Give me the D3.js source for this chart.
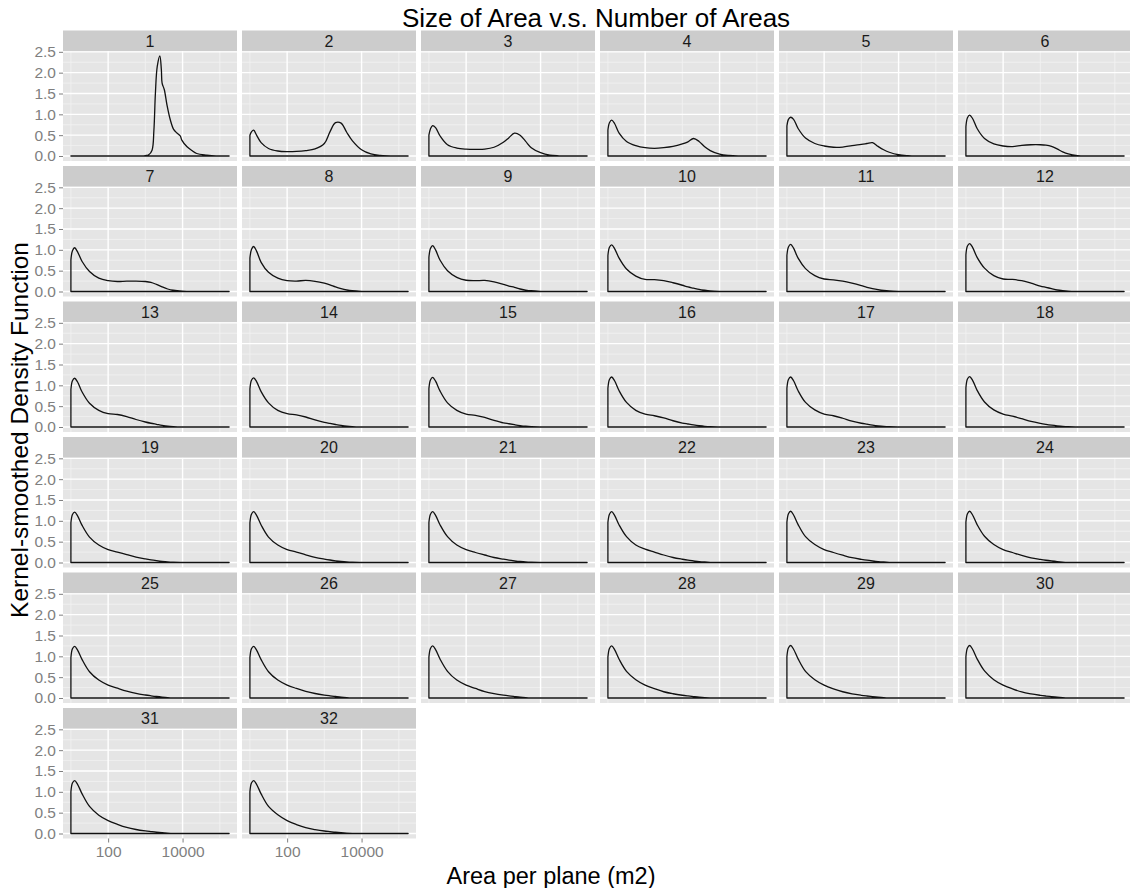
<!DOCTYPE html>
<html>
<head>
<meta charset="utf-8">
<script src="https://cdn.jsdelivr.net/npm/d3@7"></script>
<style>
body{margin:0;background:#fff;}
svg text{font-family:"Liberation Sans",Arial,Helvetica,sans-serif;}
</style>
</head>
<body>
<div id="chart"></div>
<script>
// facet labels
var panelLabels = ["1","2","3","4","5","6","7","8","9","10","11","12","13","14","15","16",
    "17","18","19","20","21","22","23","24","25","26","27","28","29","30","31","32"];

// area (m2) where the curves were read; panel 1 needs a finer grid round its peak
var areaGridFirst = [10, 316, 1000, 1230, 1514, 1698, 1862, 2089, 2455, 2692, 2818, 3236, 3802, 4677, 5754, 7079, 8710, 9550, 13183, 17783, 23988, 44668, 79433, 177828];
var areaGrid = [10, 11, 12.6, 15.1, 20, 31.6, 56.2, 100, 178, 316, 562, 1000, 1413, 1995, 2818, 3981, 5623, 10000, 17783, 31623, 100000, 177828];

var density1 = [0, 0, 0.01, 0.03, 0.14, 0.62, 1.5, 2.15, 2.40, 2.07, 1.75, 1.59, 1.23, 0.87, 0.64, 0.55, 0.48, 0.38, 0.22, 0.13, 0.06, 0.02, 0, 0];
var density2 = [0.50, 0.58, 0.62, 0.50, 0.32, 0.18, 0.12, 0.105, 0.11, 0.13, 0.17, 0.30, 0.58, 0.80, 0.79, 0.57, 0.37, 0.15, 0.05, 0.015, 0, 0];
var density3 = [0.50, 0.65, 0.73, 0.68, 0.48, 0.27, 0.19, 0.165, 0.16, 0.165, 0.21, 0.33, 0.44, 0.55, 0.50, 0.35, 0.20, 0.08, 0.02, 0.005, 0, 0];
var density4 = [0.62, 0.80, 0.86, 0.78, 0.55, 0.35, 0.25, 0.20, 0.185, 0.20, 0.23, 0.29, 0.34, 0.42, 0.35, 0.22, 0.13, 0.045, 0.012, 0, 0, 0];
var density5 = [0.72, 0.88, 0.93, 0.88, 0.66, 0.43, 0.30, 0.24, 0.21, 0.215, 0.25, 0.28, 0.30, 0.32, 0.23, 0.15, 0.09, 0.03, 0.008, 0, 0, 0];
var density6 = [0.70, 0.92, 0.98, 0.90, 0.66, 0.42, 0.29, 0.24, 0.225, 0.255, 0.27, 0.27, 0.26, 0.23, 0.17, 0.10, 0.05, 0.01, 0, 0, 0, 0];
var density7 = [0.76, 0.98, 1.05, 0.95, 0.72, 0.48, 0.32, 0.26, 0.24, 0.25, 0.25, 0.24, 0.22, 0.17, 0.11, 0.06, 0.03, 0.008, 0, 0, 0, 0];
var density8 = [0.80, 1.01, 1.08, 0.97, 0.70, 0.46, 0.32, 0.26, 0.25, 0.265, 0.245, 0.20, 0.16, 0.11, 0.07, 0.04, 0.02, 0.005, 0, 0, 0, 0];
var density9 = [0.82, 1.03, 1.10, 1.00, 0.75, 0.50, 0.34, 0.27, 0.26, 0.265, 0.23, 0.17, 0.13, 0.10, 0.06, 0.035, 0.018, 0.005, 0, 0, 0, 0];
var density10 = [0.86, 1.06, 1.12, 1.03, 0.80, 0.54, 0.37, 0.29, 0.285, 0.26, 0.21, 0.15, 0.11, 0.08, 0.05, 0.03, 0.015, 0.004, 0, 0, 0, 0];
var density11 = [0.87, 1.07, 1.13, 1.04, 0.80, 0.55, 0.38, 0.30, 0.28, 0.25, 0.20, 0.14, 0.10, 0.07, 0.045, 0.025, 0.012, 0.003, 0, 0, 0, 0];
var density12 = [0.88, 1.09, 1.15, 1.06, 0.82, 0.56, 0.38, 0.30, 0.29, 0.26, 0.20, 0.13, 0.10, 0.07, 0.04, 0.022, 0.01, 0.003, 0, 0, 0, 0];
var density13 = [0.90, 1.11, 1.17, 1.08, 0.84, 0.57, 0.40, 0.32, 0.30, 0.25, 0.18, 0.12, 0.09, 0.065, 0.04, 0.02, 0.01, 0.002, 0, 0, 0, 0];
var density14 = [0.91, 1.12, 1.18, 1.09, 0.85, 0.58, 0.40, 0.32, 0.29, 0.24, 0.17, 0.11, 0.085, 0.06, 0.037, 0.019, 0.009, 0.002, 0, 0, 0, 0];
var density15 = [0.92, 1.13, 1.19, 1.10, 0.86, 0.58, 0.40, 0.31, 0.28, 0.23, 0.16, 0.10, 0.078, 0.055, 0.034, 0.018, 0.008, 0.002, 0, 0, 0, 0];
var density16 = [0.93, 1.14, 1.20, 1.11, 0.87, 0.59, 0.40, 0.31, 0.27, 0.22, 0.15, 0.095, 0.072, 0.05, 0.031, 0.016, 0.007, 0.002, 0, 0, 0, 0];
var density17 = [0.93, 1.14, 1.20, 1.11, 0.87, 0.59, 0.41, 0.31, 0.27, 0.21, 0.14, 0.09, 0.068, 0.047, 0.029, 0.015, 0.007, 0.002, 0, 0, 0, 0];
var density18 = [0.94, 1.15, 1.21, 1.12, 0.88, 0.60, 0.41, 0.31, 0.26, 0.20, 0.135, 0.088, 0.065, 0.045, 0.028, 0.014, 0.006, 0.002, 0, 0, 0, 0];
var density19 = [0.95, 1.15, 1.21, 1.12, 0.89, 0.61, 0.42, 0.31, 0.25, 0.19, 0.13, 0.085, 0.062, 0.043, 0.026, 0.013, 0.006, 0.002, 0, 0, 0, 0];
var density20 = [0.95, 1.16, 1.22, 1.13, 0.90, 0.61, 0.42, 0.31, 0.25, 0.185, 0.125, 0.082, 0.06, 0.041, 0.025, 0.013, 0.006, 0.002, 0, 0, 0, 0];
var density21 = [0.96, 1.16, 1.22, 1.13, 0.90, 0.62, 0.42, 0.31, 0.24, 0.18, 0.12, 0.08, 0.058, 0.04, 0.024, 0.012, 0.006, 0.002, 0, 0, 0, 0];
var density22 = [0.96, 1.16, 1.22, 1.13, 0.90, 0.62, 0.42, 0.32, 0.25, 0.18, 0.12, 0.078, 0.056, 0.039, 0.023, 0.012, 0.005, 0.002, 0, 0, 0, 0];
var density23 = [0.97, 1.17, 1.23, 1.14, 0.91, 0.62, 0.43, 0.31, 0.24, 0.175, 0.115, 0.076, 0.055, 0.038, 0.023, 0.012, 0.005, 0.002, 0, 0, 0, 0];
var density24 = [0.97, 1.17, 1.23, 1.14, 0.91, 0.63, 0.43, 0.31, 0.24, 0.17, 0.112, 0.074, 0.054, 0.037, 0.022, 0.011, 0.005, 0.002, 0, 0, 0, 0];
var density25 = [0.97, 1.18, 1.24, 1.15, 0.92, 0.63, 0.43, 0.31, 0.235, 0.165, 0.11, 0.072, 0.053, 0.036, 0.022, 0.011, 0.005, 0.002, 0, 0, 0, 0];
var density26 = [0.97, 1.18, 1.24, 1.15, 0.92, 0.63, 0.43, 0.31, 0.23, 0.16, 0.108, 0.07, 0.052, 0.036, 0.021, 0.011, 0.005, 0.002, 0, 0, 0, 0];
var density27 = [0.98, 1.19, 1.25, 1.16, 0.93, 0.64, 0.43, 0.31, 0.23, 0.155, 0.105, 0.068, 0.05, 0.035, 0.021, 0.011, 0.005, 0.002, 0, 0, 0, 0];
var density28 = [0.98, 1.19, 1.25, 1.16, 0.93, 0.64, 0.44, 0.31, 0.225, 0.15, 0.102, 0.066, 0.049, 0.034, 0.02, 0.01, 0.005, 0.002, 0, 0, 0, 0];
var density29 = [0.99, 1.20, 1.26, 1.17, 0.94, 0.64, 0.44, 0.31, 0.22, 0.15, 0.10, 0.065, 0.048, 0.033, 0.02, 0.01, 0.004, 0.001, 0, 0, 0, 0];
var density30 = [0.99, 1.20, 1.26, 1.17, 0.94, 0.65, 0.44, 0.31, 0.22, 0.145, 0.098, 0.064, 0.047, 0.032, 0.019, 0.01, 0.004, 0.001, 0, 0, 0, 0];
var density31 = [1.00, 1.21, 1.27, 1.18, 0.95, 0.65, 0.44, 0.31, 0.22, 0.145, 0.096, 0.062, 0.046, 0.031, 0.019, 0.01, 0.004, 0.001, 0, 0, 0, 0];
var density32 = [1.00, 1.21, 1.27, 1.18, 0.95, 0.65, 0.45, 0.31, 0.215, 0.14, 0.095, 0.06, 0.045, 0.03, 0.018, 0.009, 0.004, 0.001, 0, 0, 0, 0];

var yTicks = [0, 0.5, 1, 1.5, 2, 2.5];
var yMinor = [0.25, 0.75, 1.25, 1.75, 2.25];
var xTicks = [100, 10000];
var xMinor = [10, 1000, 100000];

var densities = [density1, density2, density3, density4, density5, density6, density7, density8,
    density9, density10, density11, density12, density13, density14, density15, density16,
    density17, density18, density19, density20, density21, density22, density23, density24,
    density25, density26, density27, density28, density29, density30, density31, density32];

var width = 1130, height = 888;
var ncol = 6;
var left0 = 63, panelW = 174, colStep = 179;
var top0 = 30.5, stripH = 20.5, panelH = 110, rowStep = 135.5;
var nrow = Math.ceil(panelLabels.length / ncol);

var svg = d3.select("#chart").append("svg")
    .attr("width", width)
    .attr("height", height);

// ggplot style expansion of 5% on both scales (x on the log scale)
var yMax = d3.max(densities, function(d){ return d3.max(d); });
var x = d3.scaleLog()
    .domain([Math.pow(10, 1 - 0.05*4.25), Math.pow(10, 5.25 + 0.05*4.25)])
    .range([0, panelW]);
var y = d3.scaleLinear()
    .domain([-0.05*yMax, yMax*1.05])
    .range([panelH, 0]);

var area = d3.area()
    .x(function(d){ return x(d.a); })
    .y0(y(0))
    .y1(function(d){ return Math.min(y(0), y(d.v)); })
    .curve(d3.curveCatmullRom.alpha(0.5));

panelLabels.forEach(function(label, i){
    var col = i % ncol, row = Math.floor(i / ncol);
    var g = svg.append("g")
        .attr("transform", "translate(" + (left0 + col*colStep) + "," + (top0 + row*rowStep + stripH) + ")");

    g.append("rect")
        .attr("width", panelW).attr("height", panelH)
        .attr("fill", "#E5E5E5");

    // minor grid
    g.selectAll(".ymin").data(yMinor).enter().append("line")
        .attr("x1", 0).attr("x2", panelW)
        .attr("y1", function(d){ return y(d); }).attr("y2", function(d){ return y(d); })
        .attr("stroke", "#F2F2F2").attr("stroke-width", 0.8);
    g.selectAll(".xmin").data(xMinor).enter().append("line")
        .attr("y1", 0).attr("y2", panelH)
        .attr("x1", function(d){ return x(d); }).attr("x2", function(d){ return x(d); })
        .attr("stroke", "#F2F2F2").attr("stroke-width", 0.8);
    // major grid
    g.selectAll(".ymaj").data(yTicks).enter().append("line")
        .attr("x1", 0).attr("x2", panelW)
        .attr("y1", function(d){ return y(d); }).attr("y2", function(d){ return y(d); })
        .attr("stroke", "#FFFFFF").attr("stroke-width", 1.4);
    g.selectAll(".xmaj").data(xTicks).enter().append("line")
        .attr("y1", 0).attr("y2", panelH)
        .attr("x1", function(d){ return x(d); }).attr("x2", function(d){ return x(d); })
        .attr("stroke", "#FFFFFF").attr("stroke-width", 1.4);

    // strip
    g.append("rect")
        .attr("y", -stripH).attr("width", panelW).attr("height", stripH)
        .attr("fill", "#CCCCCC");
    g.append("text")
        .attr("x", panelW/2).attr("y", -stripH/2)
        .attr("dy", "0.36em")
        .attr("text-anchor", "middle")
        .attr("font-size", "16px")
        .attr("fill", "#1A1A1A")
        .text(label);

    var grid = i === 0 ? areaGridFirst : areaGrid;
    var pts = grid.map(function(a, k){ return {a: a, v: densities[i][k]}; });
    g.append("path")
        .attr("d", area(pts))
        .attr("fill", "none")
        .attr("stroke", "#111")
        .attr("stroke-width", 1.3)
        .attr("stroke-linejoin", "round");

    if(col === 0){
        var ya = g.append("g").call(d3.axisLeft(y).tickValues(yTicks).tickFormat(d3.format(".1f")).tickSize(4).tickPadding(3));
        ya.select(".domain").remove();
        ya.selectAll("line").attr("stroke", "#7F7F7F");
        ya.selectAll("text").attr("fill", "#7F7F7F").attr("font-size", "15.5px").attr("font-family", null);
    }
    if(row === nrow - 1){
        var xa = g.append("g").attr("transform", "translate(0," + panelH + ")")
            .call(d3.axisBottom(x).tickValues(xTicks).tickFormat(d3.format("d")).tickSize(4).tickPadding(3));
        xa.select(".domain").remove();
        xa.selectAll("line").attr("stroke", "#7F7F7F");
        xa.selectAll("text").attr("fill", "#7F7F7F").attr("font-size", "15.5px").attr("font-family", null);
    }
});

svg.append("text")
    .attr("x", 596).attr("y", 27)
    .attr("text-anchor", "middle")
    .attr("font-size", "26px")
    .text("Size of Area v.s. Number of Areas");

svg.append("text")
    .attr("x", 551).attr("y", 884)
    .attr("text-anchor", "middle")
    .attr("font-size", "23.5px")
    .text("Area per plane (m2)");

svg.append("text")
    .attr("transform", "translate(28,430) rotate(-90)")
    .attr("text-anchor", "middle")
    .attr("font-size", "24.5px")
    .text("Kernel-smoothed Density Function");
</script>
</body>
</html>
